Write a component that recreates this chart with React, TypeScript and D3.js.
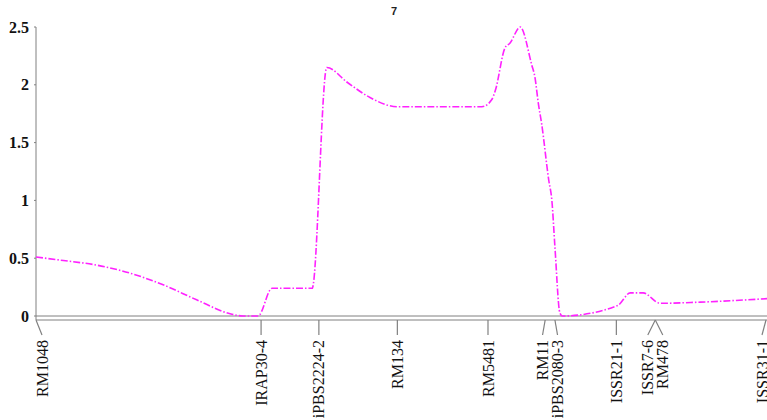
import React from "react";
import * as d3 from "d3";

// Linkage group 7: marker map positions (cM) and LOD profile
const markerNames = [
  "RM1048", "IRAP30-4", "iPBS2224-2", "RM134", "RM5481", "RM11",
  "iPBS2080-3", "ISSR21-1", "ISSR7-6", "RM478", "ISSR31-1",
];
const markerPos = [0, 37.0, 46.5, 59.4, 74.3, 83.7, 85.3, 95.4, 101.8, 101.8, 120.0];

const profilePos = [
  0, 4.5, 10.0, 15.5, 20.9, 26.4, 31.9, 34.0, 36.5, 38.8, 45.4, 47.8, 51.2, 54.9, 59.4,
  73.3, 74.9, 75.5, 77.1, 77.9, 79.6, 81.5, 82.0, 82.6, 83.1, 84.3, 84.8, 85.3, 86.1, 86.5,
  95.6, 97.7, 99.8, 102.6, 109.2, 120.2,
];
const profileLod = [
  0.51, 0.48, 0.44, 0.37, 0.27, 0.14, 0.02, 0.0, 0.0, 0.24, 0.24, 2.15, 2.02, 1.89, 1.81,
  1.81, 1.87, 1.95, 2.32, 2.36, 2.5, 2.17, 2.07, 1.83, 1.67, 1.17, 1.0, 0.6, 0.03, 0.0,
  0.09, 0.2, 0.2, 0.11, 0.12, 0.15,
];
const yTicks = [0, 0.5, 1, 1.5, 2, 2.5];
const chartTitle = "7";

const W = 767;
const H = 420;
const x0 = 36;
const yBase = 316;

export default function App() {
  const x = d3.scaleLinear().domain([0, 120]).range([x0, 766]);
  const y = d3.scaleLinear().domain([0, 2.5]).range([yBase, 27]);

  const line = d3
    .line<number>()
    .x((_, i) => x(profilePos[i]))
    .y((d) => y(d))
    .curve(d3.curveMonotoneX);

  // spread marker labels so they don't overlap
  const minGap = 15;
  const lx = markerPos.map((p) => Math.min(762, Math.max(42, x(p))));
  for (let iter = 0; iter < 50; iter++) {
    for (let i = 1; i < lx.length; i++) {
      const gap = lx[i] - lx[i - 1];
      if (gap < minGap) {
        const push = (minGap - gap) / 2;
        lx[i - 1] -= push;
        lx[i] += push;
      }
    }
  }

  const tickTop = 320;
  const tickBottom = 335;
  const labelTop = 340;

  return (
    <svg
      width={W}
      height={H}
      style={{ position: "absolute", left: 0, top: 0, background: "#fff" }}
    >
      <text
        x={394}
        y={15}
        textAnchor="middle"
        fontFamily="Liberation Sans, Arial, sans-serif"
        fontWeight="bold"
        fontSize={11}
        fill="#222"
      >
        {chartTitle}
      </text>

      {/* y axis */}
      <line x1={x0} x2={x0} y1={27} y2={320} stroke="#808080" strokeWidth={1} />
      {yTicks.map((t) => (
        <g key={t}>
          <line x1={x0 - 2} x2={x0} y1={y(t)} y2={y(t)} stroke="#808080" />
          <text
            x={29}
            y={y(t)}
            dy="0.35em"
            textAnchor="end"
            fontFamily="Liberation Serif, Times New Roman, serif"
            fontWeight="bold"
            fontSize={16}
            fill="#111"
          >
            {String(t)}
          </text>
        </g>
      ))}

      {/* x axis (double rule) */}
      <line x1={x0} x2={W} y1={yBase} y2={yBase} stroke="#808080" strokeWidth={1} />
      <line x1={x0} x2={W} y1={320} y2={320} stroke="#808080" strokeWidth={1} />

      {/* marker ticks and labels */}
      {markerNames.map((name, i) => (
        <g key={name}>
          <line
            x1={x(markerPos[i])}
            y1={tickTop}
            x2={lx[i]}
            y2={tickBottom}
            stroke="#808080"
            strokeWidth={1.2}
          />
          <text
            transform={`translate(${lx[i]},${labelTop}) rotate(-90)`}
            dy="0.35em"
            textAnchor="end"
            fontFamily="Liberation Serif, Times New Roman, serif"
            fontSize={16}
            fill="#111"
          >
            {name}
          </text>
        </g>
      ))}

      {/* LOD profile */}
      <path
        d={line(profileLod) || ""}
        fill="none"
        stroke="#ff22ff"
        strokeWidth={1.6}
        strokeDasharray="7,2,1.5,2"
      />
    </svg>
  );
}
